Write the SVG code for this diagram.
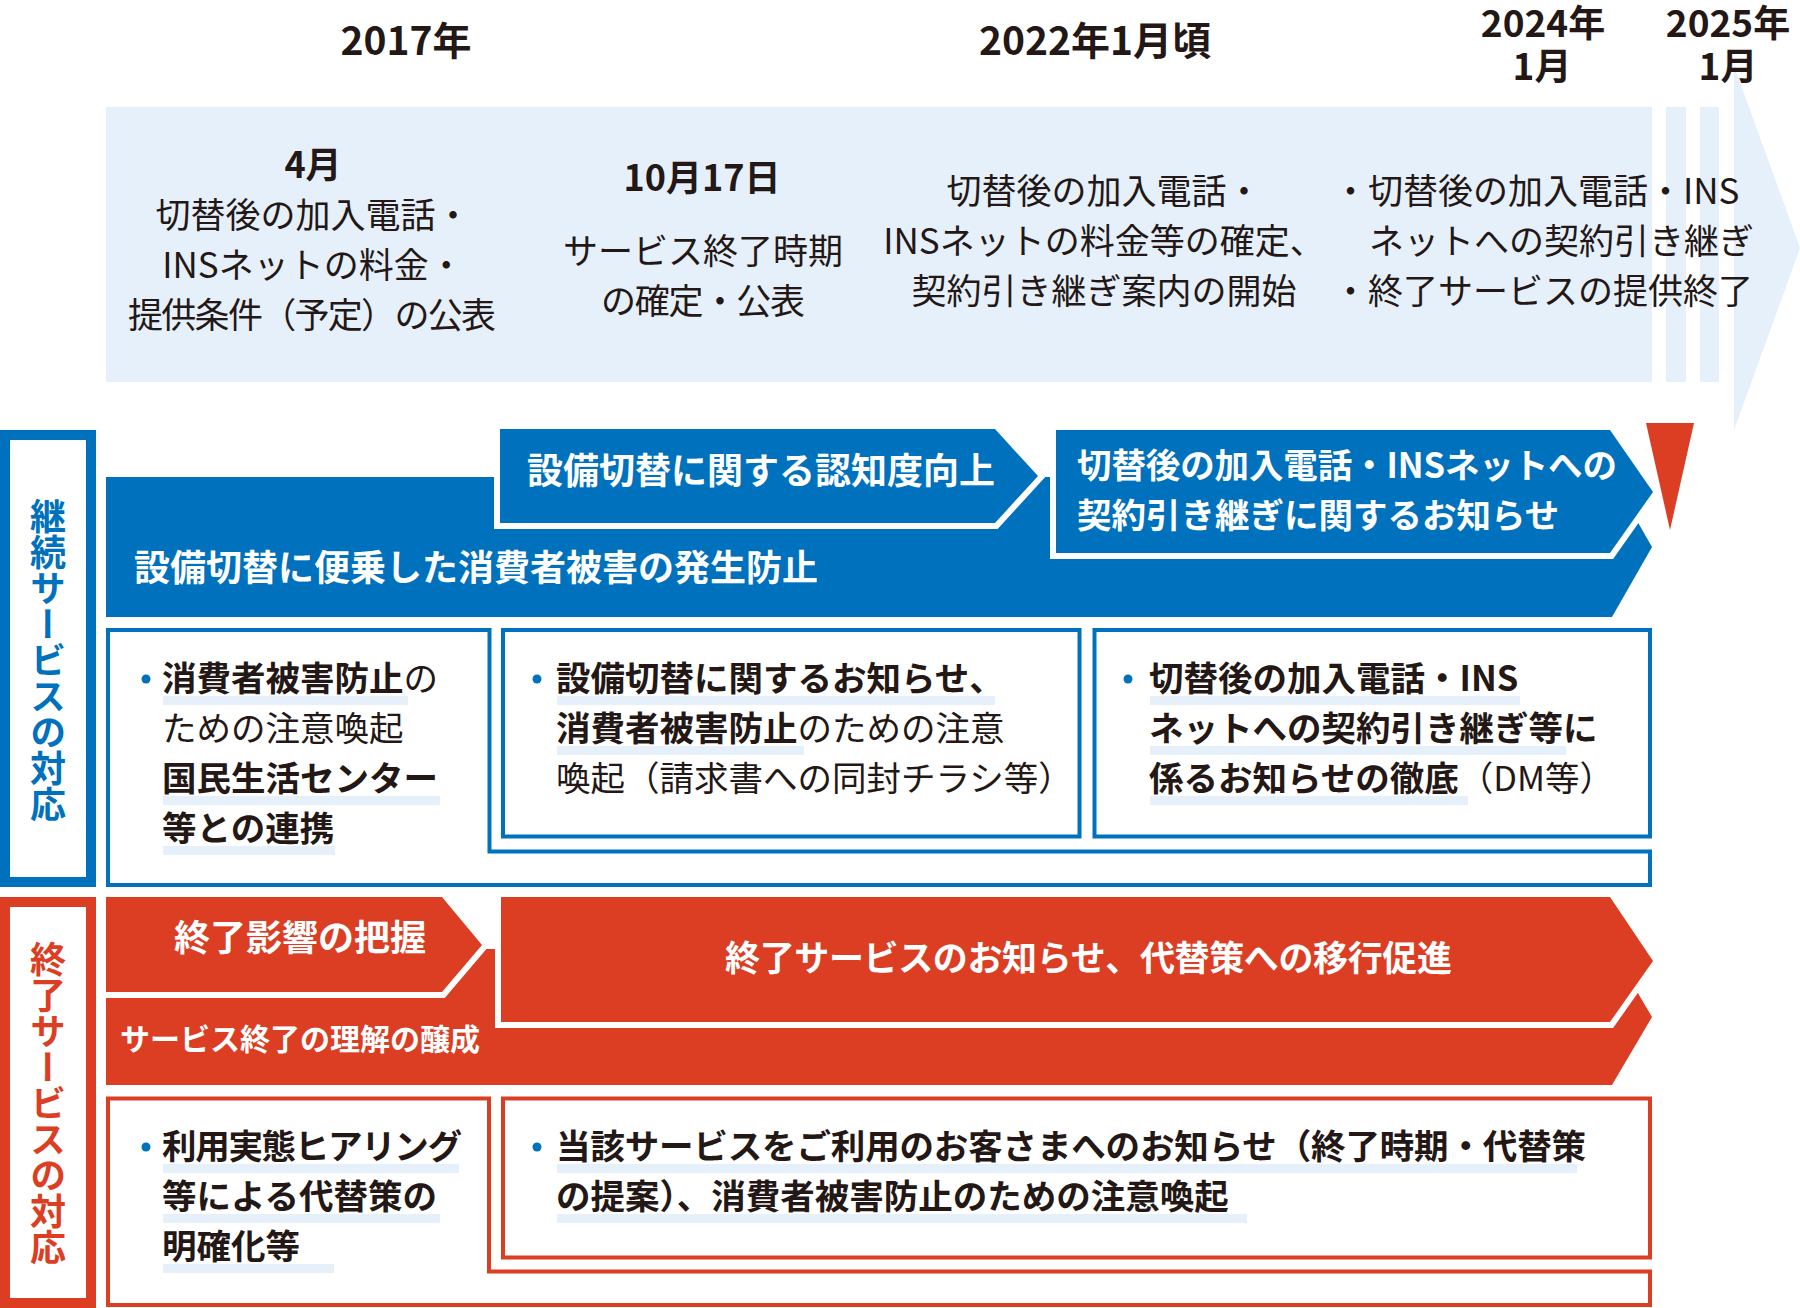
<svg xmlns="http://www.w3.org/2000/svg" width="1800" height="1308" viewBox="0 0 1800 1308">
<style>
text{font-family:"Noto Sans CJK JP","Noto Sans",sans-serif;fill:#231815}
.yr{font-size:39px;font-weight:700;text-anchor:middle}
.yr2{font-size:37px;font-weight:700;text-anchor:middle}
.dt{font-size:36px;font-weight:700;text-anchor:middle}
.bd{font-size:35px;font-weight:400;text-anchor:middle}
.bl{font-size:35px;font-weight:400}
.wt{fill:#fff;font-weight:700}
.bx{font-size:34.5px;font-weight:400}
.b{font-weight:700}
.hl{fill:#e6f0fb}
.band{fill:#e6f0fb}
.bfill{fill:#0071bc}
.rfill{fill:#db3e23}
.chevB{fill:#0071bc;stroke:#fff;stroke-width:12;paint-order:stroke}
.chevR{fill:#db3e23;stroke:#fff;stroke-width:12;paint-order:stroke}
.frB{fill:none;stroke:#0071bc;stroke-width:4}
.frR{fill:none;stroke:#db3e23;stroke-width:4}
.dot{fill:#0071bc}
.vl{font-size:36px;font-weight:700;writing-mode:vertical-rl;text-anchor:middle}
</style>

<g id="timeline">
  <rect class="band" x="106" y="107" width="1546" height="275"/>
  <rect class="band" x="1666" y="107" width="20" height="275"/>
  <rect class="band" x="1700" y="107" width="19" height="275"/>
  <polygon class="band" points="1734,66 1800,248 1734,430"/>
</g>

<g id="years">
  <text class="yr" x="406" y="55">2017年</text>
  <text class="yr" x="1095" y="55">2022年1月頃</text>
  <text class="yr2" x="1543" y="37">2024年</text>
  <text class="yr2" x="1542" y="80">1月</text>
  <text class="yr2" x="1728" y="37">2025年</text>
  <text class="yr2" x="1728" y="80">1月</text>
</g>

<g id="event1">
  <text class="dt" x="313" y="178">4月</text>
  <text class="bd" x="313" y="228">切替後の加入電話・</text>
  <text class="bd" x="313" y="278">INSネットの料金・</text>
  <text class="bd" x="312" y="328" textLength="368">提供条件（予定）の公表</text>
</g>
<g id="event2">
  <text class="dt" x="702" y="191">10月17日</text>
  <text class="bd" x="703" y="264">サービス終了時期</text>
  <text class="bd" x="703" y="314" textLength="204">の確定・公表</text>
</g>
<g id="event3">
  <text class="bd" x="1104" y="204">切替後の加入電話・</text>
  <text class="bd" x="1104" y="254">INSネットの料金等の確定、</text>
  <text class="bd" x="1104" y="304">契約引き継ぎ案内の開始</text>
</g>
<g id="event4">
  <text class="bl" x="1333" y="204">・切替後の加入電話・INS</text>
  <text class="bl" x="1369" y="254">ネットへの契約引き継ぎ</text>
  <text class="bl" x="1333" y="304">・終了サービスの提供終了</text>
</g>

<g id="label-continue">
  <rect x="5" y="435" width="86" height="447" fill="#fff" stroke="#0071bc" stroke-width="10"/>
  <text class="vl" x="48" y="660" style="fill:#0071bc">継続サービスの対応</text>
</g>
<g id="label-end">
  <rect x="5" y="902" width="86" height="401" fill="#fff" stroke="#db3e23" stroke-width="10"/>
  <text class="vl" x="48" y="1103" style="fill:#db3e23">終了サービスの対応</text>
</g>

<g id="bar-prevent">
  <polygon class="bfill" points="106,477 1612,477 1652,547 1612,617 106,617"/>
  <text class="wt" x="134" y="581" font-size="36">設備切替に便乗した消費者被害の発生防止</text>
</g>
<g id="bar-awareness">
  <polygon class="chevB" points="500,429 995,429 1038,476 995,523 500,523"/>
  <text class="wt" x="527" y="484" font-size="36">設備切替に関する認知度向上</text>
</g>
<g id="bar-notice">
  <polygon class="chevB" points="1056,430 1610,430 1653,492 1610,553 1056,553"/>
  <text class="wt" x="1077" y="478" font-size="34.5" textLength="540">切替後の加入電話・INSネットへの</text>
  <text class="wt" x="1077" y="528" font-size="34.5">契約引き継ぎに関するお知らせ</text>
</g>
<g id="marker">
  <polygon class="rfill" points="1646,423 1694,423 1670,530"/>
</g>

<g id="box-blue-left">
  <path class="frB" d="M108,630 H489.5 V851.5 H1650 V885 H108 Z"/>
  <rect class="hl" x="163" y="696" width="245" height="9"/>
  <rect class="hl" x="163" y="796" width="277" height="9"/>
  <rect class="hl" x="163" y="846" width="172" height="9"/>
  <circle class="dot" cx="146" cy="679" r="4.5"/>
  <text class="bx" x="162" y="691"><tspan class="b">消費者被害防止</tspan>の</text>
  <text class="bx" x="162" y="741">ための注意喚起</text>
  <text class="bx b" x="162" y="791">国民生活センター</text>
  <text class="bx b" x="162" y="841">等との連携</text>
</g>
<g id="box-blue-mid">
  <rect class="frB" x="503" y="630" width="576.5" height="206.5"/>
  <rect class="hl" x="557" y="696" width="438" height="9"/>
  <rect class="hl" x="557" y="746" width="247" height="9"/>
  <circle class="dot" cx="537" cy="679" r="4.5"/>
  <text class="bx" x="556" y="691"><tspan class="b">設備切替に関するお知らせ、</tspan></text>
  <text class="bx" x="556" y="741"><tspan class="b">消費者被害防止</tspan>のための注意</text>
  <text class="bx" x="556" y="791">喚起（請求書への同封チラシ等）</text>
</g>
<g id="box-blue-right">
  <rect class="frB" x="1094.5" y="630" width="555.5" height="206.5"/>
  <rect class="hl" x="1150" y="696" width="370" height="9"/>
  <rect class="hl" x="1150" y="746" width="416" height="9"/>
  <rect class="hl" x="1150" y="796" width="318" height="9"/>
  <circle class="dot" cx="1128" cy="679" r="4.5"/>
  <text class="bx b" x="1149" y="691">切替後の加入電話・INS</text>
  <text class="bx b" x="1149" y="741">ネットへの契約引き継ぎ等に</text>
  <text class="bx" x="1149" y="791"><tspan class="b">係るお知らせの徹底</tspan>（DM等）</text>
</g>

<g id="bar-understanding">
  <polygon class="rfill" points="106,949 1612,949 1652,1017 1612,1085 106,1085"/>
  <text class="wt" x="120" y="1050" font-size="30">サービス終了の理解の醸成</text>
</g>
<g id="bar-impact">
  <polygon class="chevR" points="106,897 442,897 482,945 442,992 106,992"/>
  <text class="wt" x="174" y="951" font-size="36">終了影響の把握</text>
</g>
<g id="bar-migration">
  <polygon class="chevR" points="501,897 1610,897 1653,961 1610,1022 501,1022"/>
  <text class="wt" x="725" y="971" font-size="35" textLength="727">終了サービスのお知らせ、代替策への移行促進</text>
</g>

<g id="box-red-left">
  <path class="frR" d="M108,1098.5 H489 V1271.5 H1650 V1305 H108 Z"/>
  <rect class="hl" x="163" y="1164" width="296" height="9"/>
  <rect class="hl" x="163" y="1214" width="277" height="9"/>
  <rect class="hl" x="163" y="1264" width="171" height="9"/>
  <circle class="dot" cx="146" cy="1147" r="4.5"/>
  <text class="bx b" x="162" y="1159" textLength="300">利用実態ヒアリング</text>
  <text class="bx b" x="162" y="1209">等による代替策の</text>
  <text class="bx b" x="162" y="1259">明確化等</text>
</g>
<g id="box-red-right">
  <rect class="frR" x="503" y="1098.5" width="1147" height="159"/>
  <rect class="hl" x="557" y="1164" width="1020" height="9"/>
  <rect class="hl" x="557" y="1214" width="690" height="9"/>
  <circle class="dot" cx="537" cy="1147" r="4.5"/>
  <text class="bx b" x="556" y="1159" textLength="1030">当該サービスをご利用のお客さまへのお知らせ（終了時期・代替策</text>
  <text class="bx b" x="556" y="1209">の提案）、消費者被害防止のための注意喚起</text>
</g>

<g id="connectors"></g>
</svg>
